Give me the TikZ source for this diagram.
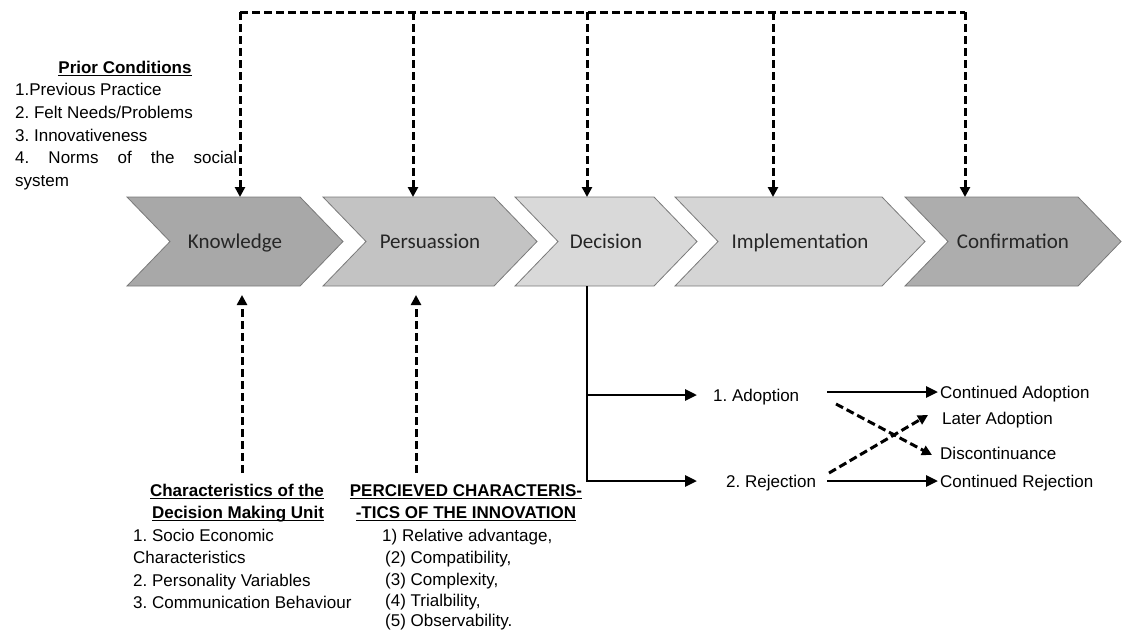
\documentclass[tikz,border=0pt]{standalone}
\usepackage{fontspec}
\setmainfont{Liberation Sans}
\newfontfamily\chevfont{Carlito}
\usetikzlibrary{arrows.meta}
\definecolor{cK}{HTML}{A8A8A8}
\definecolor{cP}{HTML}{C3C3C3}
\definecolor{cD}{HTML}{D9D9D9}
\definecolor{cI}{HTML}{D5D5D5}
\definecolor{cC}{HTML}{ADADAD}
\definecolor{edge}{HTML}{7A7A7A}
\frenchspacing
\newcommand\myul[1]{\setbox0=\hbox{#1}\rlap{\vrule height -1.8pt depth 3.2pt width \wd0}\box0}
\newcommand\chev[5]{%
  \filldraw[chevbox, fill=#3] (#1,197) -- (#2,197) -- ({#2+43},241.5) -- (#2,286) -- (#1,286) -- ({#1+43},241.5) -- cycle;
  \node[chevtext] (#4) at ({(#1+43+#2)/2},241.5) {#5};
}
\begin{document}
\begin{tikzpicture}[x=1pt,y=-1pt,
  lab/.style={inner sep=0pt, text height=13pt, text depth=0.8pt, font=\fontsize{17}{20}\selectfont, text=black},
  labb/.style={lab, font=\fontsize{17}{20}\selectfont\bfseries},
  chevbox/.style={draw=edge, line width=0.8pt, line join=miter},
  chevtext/.style={inner sep=0pt, text height=14.5pt, text depth=1pt, font=\chevfont\fontsize{21}{24}\selectfont, text=black!85},
  dline/.style={line width=3pt, dash pattern=on 8pt off 4pt},
  tip/.style={-{Triangle[length=10pt,width=10pt]}},
  sline/.style={line width=2.8pt},
  stip/.style={-{Triangle[length=12pt,width=11pt]}},
]
\useasboundingbox (0,0) rectangle (1124,630);

% chevrons
\chev{127}{300}{cK}{know}{Knowledge}
\chev{323}{494}{cP}{pers}{Persuassion}
\chev{515}{654}{cD}{deci}{Decision}
\chev{675}{882}{cI}{impl}{Implementation}
\chev{905}{1078}{cC}{conf}{Confirmation}

% prior conditions
\node[labb] (prior) at (125,67) {\myul{Prior Conditions}};
\node[lab, anchor=west] (pc1) at (15,89) {1.Previous Practice};
\node[lab, anchor=west] (pc2) at (15,112) {2. Felt Needs/Problems};
\node[lab, anchor=west] (pc3) at (15,135) {3. Innovativeness};
\node[lab, anchor=west] (pc4) at (15,157) {\makebox[222pt][s]{4. Norms of the social}};
\node[lab, anchor=west] (pc5) at (15,180) {system};

% top dashed feedback
\coordinate (t1) at (240,12);
\coordinate (t2) at (413,12);
\coordinate (t3) at (587,12);
\coordinate (t4) at (773,12);
\coordinate (t5) at (965,12);
\coordinate (kin) at (240,197);
\coordinate (pin) at (413,197);
\coordinate (din) at (587,197);
\coordinate (iin) at (773,197);
\coordinate (cin) at (965,197);
\draw[dline] (t1) -- (t5);
\foreach \a/\b in {t1/kin,t2/pin,t3/din,t4/iin,t5/cin}
  \draw[dline,tip] (\a) -- (\b);

% characteristics of decision making unit
\node[labb] (dmu1) at (237,490) {\myul{Characteristics of the}};
\node[labb] (dmu2) at (238,512) {\myul{Decision Making Unit}};
\node[lab, anchor=west] (dm1) at (133,535) {1. Socio Economic};
\node[lab, anchor=west] (dm2) at (133,557) {Characteristics};
\node[lab, anchor=west] (dm3) at (133,580) {2. Personality Variables};
\node[lab, anchor=west] (dm4) at (133,602) {3. Communication Behaviour};

% perceived characteristics
\node[labb] (pci1) at (466,490) {\myul{PERCIEVED CHARACTERIS-}};
\node[labb] (pci2) at (466,512) {\myul{-TICS OF THE INNOVATION}};
\node[lab, anchor=west] (pi1) at (382,535) {1) Relative advantage,};
\node[lab, anchor=west] (pi2) at (385,557) {(2) Compatibility,};
\node[lab, anchor=west] (pi3) at (385,579) {(3) Complexity,};
\node[lab, anchor=west] (pi4) at (385,600) {(4) Trialbility,};
\node[lab, anchor=west] (pi5) at (385,620) {(5) Observability.};

% up arrows
\coordinate (kb) at (242,473);
\coordinate (kout) at (242,295);
\coordinate (pb) at (416,473);
\coordinate (pout) at (416,295);
\draw[dline,tip] (kb) -- (kout);
\draw[dline,tip] (pb) -- (pout);

% decision outcomes
\node[lab, anchor=west] (adopt) at (713,395) {1. Adoption};
\node[lab, anchor=west] (rej) at (726,481) {2. Rejection};
\node[lab, anchor=west] (contA) at (940,392) {Continued Adoption};
\node[lab, anchor=west] (later) at (942,418) {Later Adoption};
\node[lab, anchor=west] (disc) at (940,453) {Discontinuance};
\node[lab, anchor=west] (contR) at (940,481) {Continued Rejection};

\coordinate (dbot) at (587,286);
\coordinate (dj) at (587,395);
\draw[sline,stip,shorten >=29pt] (dbot) |- (rej.west);
\draw[sline,stip,shorten >=16pt] (dj) -- (adopt.west);
\draw[sline,stip,shorten <=28pt,shorten >=2pt] (adopt.east |- contA.west) -- (contA.west);
\draw[sline,stip,shorten <=11pt,shorten >=2pt] (rej.east) -- (contR.west);

\coordinate (x1) at (836,404);
\coordinate (x2) at (932,455);
\coordinate (y1) at (829,473);
\coordinate (y2) at (928,415);
\draw[dline,tip] (x1) -- (x2);
\draw[dline,tip] (y1) -- (y2);
\end{tikzpicture}
\end{document}
